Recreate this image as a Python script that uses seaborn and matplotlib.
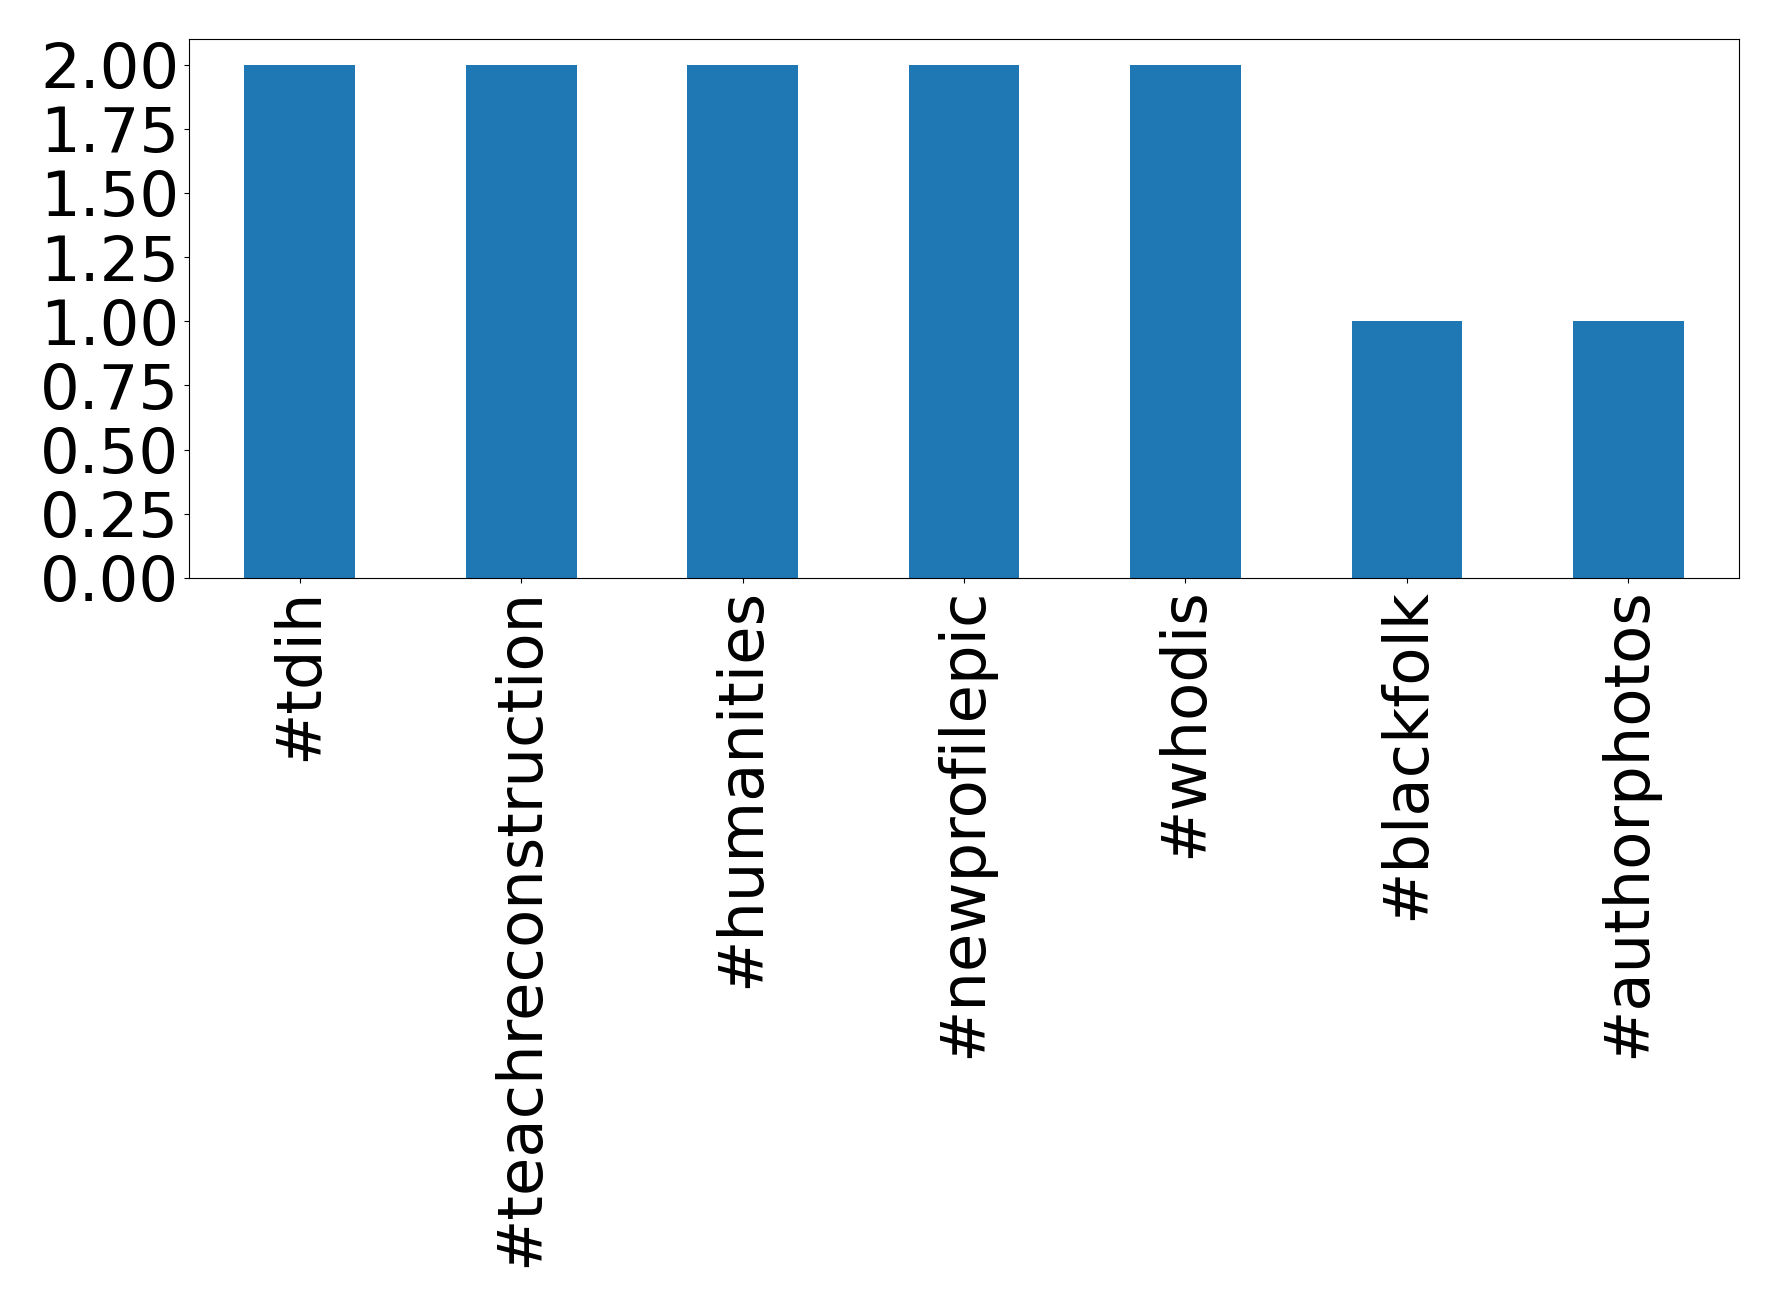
import matplotlib
matplotlib.use("Agg")
import matplotlib.pyplot as plt
import pandas as pd
import seaborn as sns

hashtags = [
    "#tdih",
    "#teachreconstruction",
    "#humanities",
    "#newprofilepic",
    "#whodis",
    "#blackfolk",
    "#authorphotos",
]
counts = [2, 2, 2, 2, 2, 1, 1]

df = pd.DataFrame({"hashtag": hashtags, "count": counts})

fig = plt.figure(figsize=(17.78, 13.07), dpi=100)
ax = fig.add_axes([0.1063, 0.5578, 0.8718, 0.4124])

sns.barplot(
    data=df,
    x="hashtag",
    y="count",
    color="#1f77b4",
    saturation=1,
    width=0.5,
    ax=ax,
)
ax.set_ylim(0, 2.1)
ax.set_yticks([0, 0.25, 0.5, 0.75, 1.0, 1.25, 1.5, 1.75, 2.0])
ax.set_yticklabels([f"{v:.2f}" for v in ax.get_yticks()])
ax.set_xlabel("")
ax.set_ylabel("")
ax.tick_params(axis="both", labelsize=45)
ax.tick_params(axis="x", labelrotation=90)

plt.savefig("out.png", dpi=100)
